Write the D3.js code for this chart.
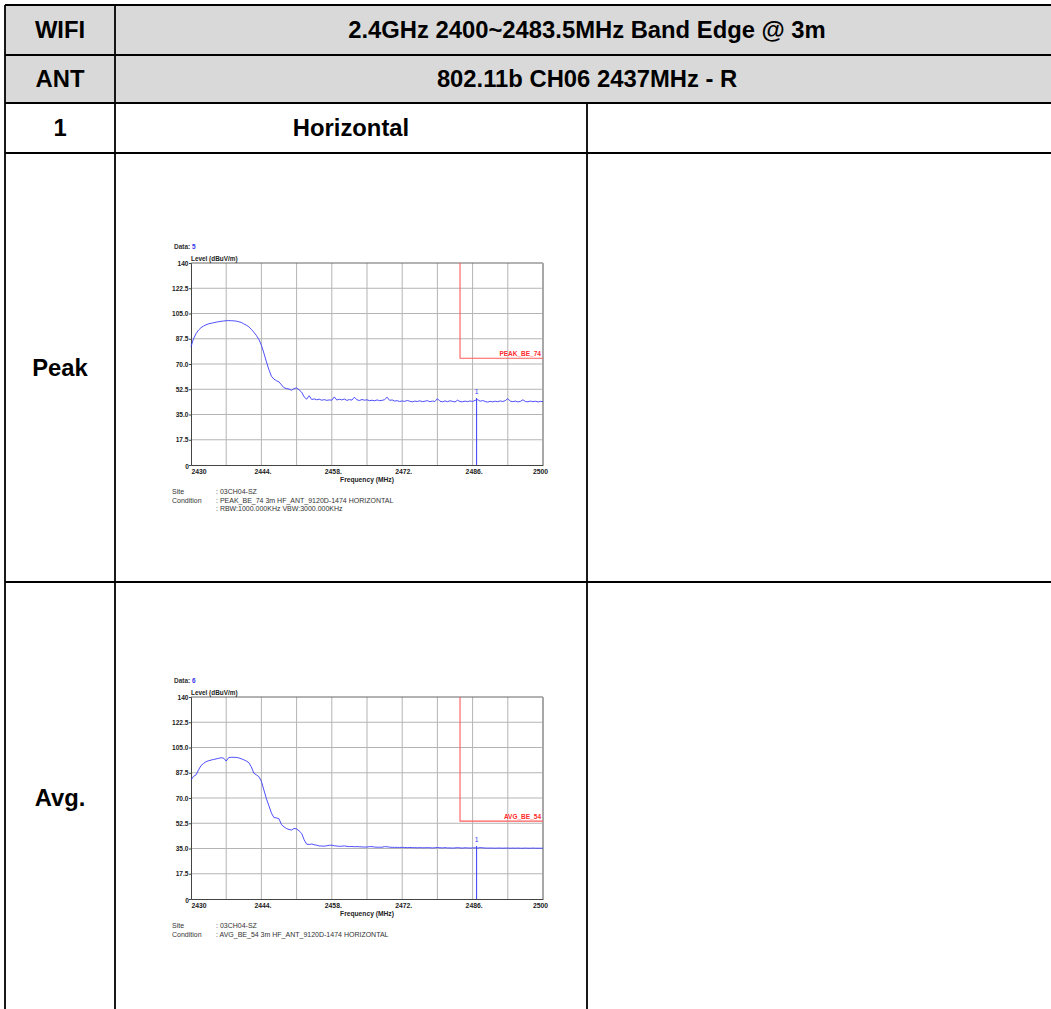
<!DOCTYPE html>
<html><head><meta charset="utf-8">
<script src="https://cdn.jsdelivr.net/npm/d3@7"></script>
<style>
body{margin:0;background:#fff;}
svg{display:block;font-family:"Liberation Sans",Arial,sans-serif;}
</style>
</head><body>
<svg id="c" width="1051" height="1009"></svg>
<script>
// ---------- table content ----------
const headerLabels = ["WIFI", "ANT"];
const headerValues = ["2.4GHz 2400~2483.5MHz Band Edge @ 3m", "802.11b CH06 2437MHz - R"];
const subHeader = ["1", "Horizontal"];
const rowLabels = ["Peak", "Avg."];

// ---------- chart data (level in dBuV/m, sweep from 2430 MHz in 0.5 MHz steps) ----------
const freqStart = 2430, freqStep = 0.5;
const peakLevels = [
  82.0, 87.5, 91.0, 93.5, 95.2, 96.3, 97.2, 97.8, 98.2, 98.6,
  99.0, 99.3, 99.6, 99.8, 100.0, 100.1, 100.0, 99.9, 99.7, 99.3,
  98.8, 97.8, 96.9, 95.8, 94.0, 92.0, 89.8, 87.0, 83.0, 77.5,
  71.5, 66.0, 61.5, 59.5, 58.4, 57.6, 55.5, 53.5, 53.0, 52.6,
  51.8, 53.0, 53.4, 52.0, 50.5, 47.2,
  45.6, 48.0, 45.4, 45.8, 45.2, 45.6, 44.9, 45.3, 44.8, 45.1,
  44.9, 47.2, 45.0, 45.6, 45.1, 45.7, 44.8, 45.3, 45.0, 47.0,
  45.2, 44.7, 45.4, 44.9, 45.2, 44.6, 44.9, 44.5, 45.1, 44.6,
  44.8, 45.3, 47.0, 44.8, 45.1, 44.3, 44.6, 44.0, 44.4, 44.1,
  44.7, 44.2, 43.8, 44.3, 44.0, 44.5, 43.9, 44.2, 44.6, 43.9,
  44.3, 44.0, 46.0, 44.2, 43.8, 44.4, 43.9, 44.5, 44.1, 43.7,
  44.9, 44.0, 43.8, 44.3, 43.9, 44.4, 44.0, 44.8, 45.3, 44.2,
  44.7, 44.0, 43.6, 44.1, 43.8, 44.2, 43.9, 44.4, 44.0, 44.6,
  46.0, 44.2, 43.9, 44.3, 43.7, 44.1, 45.2, 44.0, 43.8, 44.3,
  43.9, 44.2, 43.7, 44.1, 43.9
];
const avgLevels = [
  82.5, 85.0, 86.0, 89.5, 92.5, 94.0, 95.2, 95.8, 96.3, 96.7,
  97.1, 97.5, 97.9, 97.6, 95.6, 98.0, 98.2, 98.2, 98.1, 97.8,
  97.2, 96.5, 95.6, 94.5, 91.5, 87.2, 86.0, 84.8, 81.5, 75.5,
  69.5, 64.5, 59.5, 56.4, 56.2, 55.6, 51.5, 50.0, 48.8, 48.2,
  47.8, 48.9, 48.6, 47.2, 45.5, 41.0, 38.0, 37.8, 38.1, 37.6,
  37.3, 36.8, 36.7, 36.6, 36.9, 37.2, 37.3, 36.9, 36.7, 36.5,
  36.6, 36.8, 36.5, 36.3, 36.4, 36.2, 36.3, 36.2, 36.1, 36.0,
  36.0, 36.3, 36.3, 36.0, 35.9, 35.9, 35.9, 36.3, 36.2, 35.9,
  35.8, 35.8, 35.8, 35.7, 35.8, 35.7, 35.6, 35.7, 35.6, 35.6,
  35.5, 35.6, 35.5, 35.5, 35.6, 35.5, 35.4, 35.5, 35.7, 35.5,
  35.4, 35.6, 35.4, 35.4, 35.3, 35.4, 35.6, 35.4, 35.3, 35.5,
  35.4, 35.3, 35.4, 35.5, 35.3, 35.6, 35.5, 35.3, 35.3, 35.3,
  35.3, 35.2, 35.3, 35.3, 35.2, 35.3, 35.3, 35.2, 35.3, 35.2,
  35.3, 35.2, 35.2, 35.3, 35.2, 35.2, 35.3, 35.2, 35.2, 35.2,
  35.2
];

// axes
const yTicks = [0, 17.5, 35, 52.5, 70, 87.5, 105, 122.5, 140];
const yTickLabels = ["0", "17.5", "35.0", "52.5", "70.0", "87.5", "105.0", "122.5", "140"];
const xTicks = [2430, 2444, 2458, 2472, 2486, 2500];
const xTickLabels = ["2430", "2444.", "2458.", "2472.", "2486.", "2500"];
const xGrid = [2437, 2444, 2451, 2458, 2465, 2472, 2479, 2486, 2493];

// limits / markers / captions
const limitStart = 2483.5;
const limitValues = [74, 54];
const limitLabels = ["PEAK_BE_74", "AVG_BE_54"];
const markerFreqs = [2486.8, 2486.8];
const dataNumbers = ["5", "6"];
const siteText = "03CH04-SZ";
const conditionTexts = [
  ["PEAK_BE_74 3m HF_ANT_9120D-1474 HORIZONTAL", "RBW:1000.000KHz VBW:3000.000KHz"],
  ["AVG_BE_54 3m HF_ANT_9120D-1474 HORIZONTAL"]
];

// ---------- drawing ----------
const svg = d3.select("#c");
svg.append("rect").attr("width", 1051).attr("height", 1009).attr("fill", "#fff");

// table layout
const colX = [5, 115, 587];
const rowY = [5, 55, 103, 153, 582];
const tableRight = 1060, tableBottom = 1015;

svg.append("rect").attr("x", colX[0]).attr("y", rowY[0])
  .attr("width", tableRight - colX[0]).attr("height", rowY[2] - rowY[0]).attr("fill", "#d9d9d9");

const tl = svg.append("g").attr("stroke", "#000").attr("stroke-width", 1.8);
rowY.forEach(y => tl.append("line").attr("x1", colX[0]).attr("x2", tableRight).attr("y1", y).attr("y2", y));
tl.append("line").attr("x1", colX[0]).attr("x2", colX[0]).attr("y1", rowY[0]).attr("y2", tableBottom);
tl.append("line").attr("x1", colX[1]).attr("x2", colX[1]).attr("y1", rowY[0]).attr("y2", tableBottom);
tl.append("line").attr("x1", colX[2]).attr("x2", colX[2]).attr("y1", rowY[2]).attr("y2", tableBottom);

function cellText(x, cy, t) {
  svg.append("text").attr("x", x).attr("y", cy + 8).attr("text-anchor", "middle")
    .attr("font-size", 23.8).attr("font-weight", "bold").attr("fill", "#000").text(t);
}
const c0 = (colX[0] + colX[1]) / 2;
headerLabels.forEach((t, i) => cellText(c0, (rowY[i] + rowY[i + 1]) / 2, t));
headerValues.forEach((t, i) => cellText(587, (rowY[i] + rowY[i + 1]) / 2, t));
cellText(c0, (rowY[2] + rowY[3]) / 2, subHeader[0]);
cellText((colX[1] + colX[2]) / 2, (rowY[2] + rowY[3]) / 2, subHeader[1]);
cellText(c0, 368, rowLabels[0]);
cellText(c0, 798, rowLabels[1]);

// charts
function drawChart(top, levels, idx) {
  const left = 191, right = 543, bottom = top + 202;
  const x = d3.scaleLinear().domain([2430, 2500]).range([left, right]);
  const y = d3.scaleLinear().domain([0, 140]).range([bottom, top]);
  const g = svg.append("g");
  const data = levels.map((v, i) => [freqStart + i * freqStep, v]);

  // grid
  g.append("g").selectAll("line").data(xGrid).join("line")
    .attr("x1", d => x(d)).attr("x2", d => x(d)).attr("y1", top).attr("y2", bottom)
    .attr("stroke", "#b4b4b4").attr("stroke-width", 1);
  g.append("g").selectAll("line").data(yTicks.slice(1, -1)).join("line")
    .attr("x1", left).attr("x2", right).attr("y1", d => y(d)).attr("y2", d => y(d))
    .attr("stroke", "#b4b4b4").attr("stroke-width", 1);

  // frame
  g.append("line").attr("x1", left).attr("x2", right).attr("y1", top).attr("y2", top).attr("stroke", "#666");
  g.append("line").attr("x1", right).attr("x2", right).attr("y1", top).attr("y2", bottom).attr("stroke", "#a8a8a8").attr("stroke-width", 2);

  // axes
  const ya = d3.axisLeft(y).tickValues(yTicks.slice(1)).tickSize(2)
    .tickFormat(d => yTickLabels[yTicks.indexOf(d)]);
  const yg = g.append("g").attr("transform", `translate(${left},0)`).call(ya);
  yg.select(".domain").attr("stroke", "#444");
  yg.selectAll(".tick line").attr("stroke", "#444");
  yg.selectAll(".tick text").attr("x", -2.5).attr("font-size", 6.6).attr("font-weight", "bold")
    .attr("fill", "#222").attr("font-family", "'Liberation Sans',Arial,sans-serif");
  g.append("text").attr("x", left - 2).attr("y", bottom + 3.5).attr("text-anchor", "end")
    .attr("font-size", 6.6).attr("font-weight", "bold").attr("fill", "#222").text(yTickLabels[0]);

  const xa = d3.axisBottom(x).tickValues(xTicks).tickSize(0)
    .tickFormat(d => xTickLabels[xTicks.indexOf(d)]);
  const xg = g.append("g").attr("transform", `translate(0,${bottom})`).call(xa);
  xg.select(".domain").attr("stroke", "#444");
  xg.selectAll(".tick text").attr("y", 4).attr("font-size", 6.8).attr("font-weight", "bold")
    .attr("fill", "#222").attr("font-family", "'Liberation Sans',Arial,sans-serif")
    .attr("text-anchor", (d, i) => i === 0 ? "start" : "middle")
    .attr("dx", (d, i) => i === xTicks.length - 1 ? -3 : (i === 0 ? 0 : 1));

  g.append("text").attr("x", (left + right) / 2).attr("y", bottom + 16.5).attr("text-anchor", "middle")
    .attr("font-size", 6.7).attr("font-weight", "bold").attr("fill", "#222").text("Frequency (MHz)");
  g.append("text").attr("x", left).attr("y", top - 2.5)
    .attr("font-size", 6.4).attr("font-weight", "bold").attr("fill", "#222").text("Level (dBuV/m)");
  const dt = g.append("text").attr("x", 174).attr("y", top - 14)
    .attr("font-size", 6.5).attr("font-weight", "bold").attr("fill", "#333");
  dt.append("tspan").text("Data: ");
  dt.append("tspan").attr("fill", "#3333ee").text(dataNumbers[idx]);

  // limit
  const lim = limitValues[idx];
  g.append("path")
    .attr("d", d3.line()([[x(limitStart), top], [x(limitStart), y(lim)], [right, y(lim)]]))
    .attr("fill", "none").attr("stroke", "#ff5c5c").attr("stroke-width", 1.1);
  g.append("text").attr("x", right - 2).attr("y", y(lim) - 2.5).attr("text-anchor", "end")
    .attr("font-size", 6.5).attr("font-weight", "bold").attr("fill", "#ff2a2a").text(limitLabels[idx]);

  // trace
  g.append("path").datum(data)
    .attr("d", d3.line().x(d => x(d[0])).y(d => y(d[1])))
    .attr("fill", "none").attr("stroke", "#3a3aff").attr("stroke-width", 0.9);

  // marker
  const mf = markerFreqs[idx];
  const i0 = Math.floor((mf - freqStart) / freqStep);
  const t = (mf - data[i0][0]) / freqStep;
  const mv = data[i0][1] + (data[i0 + 1][1] - data[i0][1]) * t;
  g.append("line").attr("x1", x(mf)).attr("x2", x(mf)).attr("y1", y(mv) - 2).attr("y2", bottom)
    .attr("stroke", "#3a3aff").attr("stroke-width", 1);
  g.append("text").attr("x", x(mf)).attr("y", y(mv) - 6).attr("text-anchor", "middle")
    .attr("font-size", 6.8).attr("fill", "#3a3aff").text("1");

  // caption
  const cap = g.append("g").attr("font-size", 7).attr("fill", "#333");
  cap.append("text").attr("x", 172).attr("y", bottom + 29).text("Site");
  cap.append("text").attr("x", 216).attr("y", bottom + 29).text(": " + siteText);
  cap.append("text").attr("x", 172).attr("y", bottom + 37.5).text("Condition");
  conditionTexts[idx].forEach((s, k) => {
    cap.append("text").attr("x", 216).attr("y", bottom + 37.5 + k * 8).text(": " + s);
  });
}

drawChart(263, peakLevels, 0);
drawChart(697, avgLevels, 1);
</script>
</body></html>
